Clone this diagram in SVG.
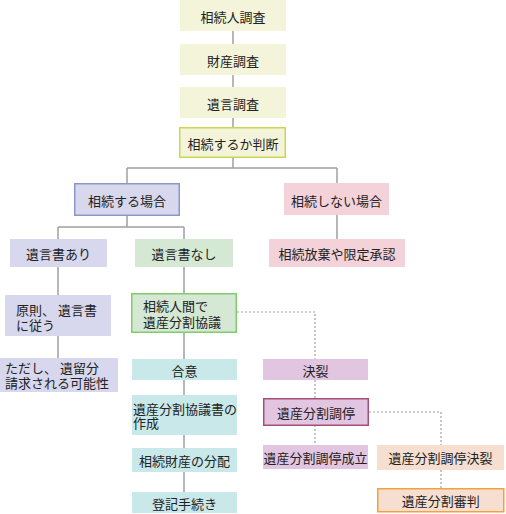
<svg xmlns="http://www.w3.org/2000/svg" width="506" height="514" viewBox="0 0 506 514">
<style>
text{font-family:"Noto Sans CJK JP","Noto Sans",sans-serif;font-size:13px;fill:#222}
.c{text-anchor:middle;dominant-baseline:central}
.l{text-anchor:start}
.ln{fill:none;stroke:#a0a0a0;stroke-width:1.5}
.dt{fill:none;stroke:#a0a0a0;stroke-width:1.2;stroke-dasharray:2 2}
.y{fill:#f4f4da}
.b{fill:#d7d8ee}
.p{fill:#f4d2da}
.g{fill:#d5e8d4}
.cy{fill:#c9e8ea}
.m{fill:#e1c5e1}
.o{fill:#f6dfd0}
</style>
<g id="connectors">
<path class="ln" d="M233 31V44M233 75V87M233 118V127M233 157V168M127 168H337M127 168V183M337 168V183"/>
<path class="ln" d="M127 215V227M58 227H184M58 227V239M184 227V239M337 215V239"/>
<path class="ln" d="M58 267V295M58 336V358M184 267V293M184 333V359M184 380V395M184 435V448M184 472V492"/>
<path class="dt" d="M237 312H315V359M315 380V398M315 425V445M369 412H441V445M441 470V488"/>
</g>
<g id="n1"><rect class="y" x="180" y="0" width="106" height="31"/><text class="c" x="233" y="16">相続人調査</text></g>
<g id="n2"><rect class="y" x="180" y="44" width="106" height="31"/><text class="c" x="233" y="60">財産調査</text></g>
<g id="n3"><rect class="y" x="180" y="87" width="106" height="31"/><text class="c" x="233" y="103">遺言調査</text></g>
<g id="n4"><rect class="y" x="179.75" y="127.75" width="105.5" height="29.5" stroke="#c8d850" stroke-width="1.5"/><text class="c" x="233" y="143">相続するか判断</text></g>
<g id="n5"><rect class="b" x="74.75" y="183.75" width="104.5" height="31.5" stroke="#8e96c8" stroke-width="1.5"/><text class="c" x="127" y="200">相続する場合</text></g>
<g id="n6"><rect class="p" x="284" y="183" width="105" height="32"/><text class="c" x="336.5" y="200">相続しない場合</text></g>
<g id="n7"><rect class="p" x="269" y="239" width="136" height="28"/><text class="c" x="337" y="253.5">相続放棄や限定承認</text></g>
<g id="n8"><rect class="b" x="10" y="239" width="97" height="28"/><text class="c" x="58.5" y="253.5">遺言書あり</text></g>
<g id="n9"><rect class="g" x="135" y="239" width="98" height="28"/><text class="c" x="184" y="253.5">遺言書なし</text></g>
<g id="n10"><rect class="b" x="5" y="295" width="106" height="41"/><text class="l" x="16" y="315">原則、 遺言書<tspan x="16" dy="14.5">に従う</tspan></text></g>
<g id="n11"><rect class="g" x="131.75" y="293.75" width="104.5" height="38.5" stroke="#82cc6e" stroke-width="1.5"/><text class="l" x="143" y="310.5">相続人間で<tspan x="143" dy="16">遺産分割協議</tspan></text></g>
<g id="n12"><rect class="b" x="0" y="358" width="118" height="34"/><text class="l" x="5" y="372.5">ただし、 遺留分<tspan x="5" dy="15.5">請求される可能性</tspan></text></g>
<g id="n13"><rect class="cy" x="132" y="359" width="105" height="21"/><text class="c" x="184.5" y="370">合意</text></g>
<g id="n14"><rect class="cy" x="132" y="395" width="105" height="40"/><text class="l" x="133" y="413.5">遺産分割協議書の<tspan x="133" dy="14.5">作成</tspan></text></g>
<g id="n15"><rect class="cy" x="132" y="448" width="105" height="24"/><text class="c" x="184.5" y="460.5">相続財産の分配</text></g>
<g id="n16"><rect class="cy" x="132" y="492" width="105" height="21"/><text class="c" x="184.5" y="503">登記手続き</text></g>
<g id="n17"><rect class="m" x="263" y="359" width="105" height="21"/><text class="c" x="315.5" y="370">決裂</text></g>
<g id="n18"><rect class="m" x="263.75" y="398.75" width="104.5" height="26.5" stroke="#a64d79" stroke-width="1.5"/><text class="c" x="316" y="412">遺産分割調停</text></g>
<g id="n19"><rect class="m" x="263" y="445" width="105" height="24"/><text class="c" x="315.5" y="457.5">遺産分割調停成立</text></g>
<g id="n20"><rect class="o" x="377" y="445" width="127" height="25"/><text class="c" x="440.5" y="457.5">遺産分割調停決裂</text></g>
<g id="n21"><rect class="o" x="377.75" y="488.75" width="126" height="23" stroke="#f2a040" stroke-width="1.5"/><text class="c" x="440.75" y="500.5">遺産分割審判</text></g>
</svg>
